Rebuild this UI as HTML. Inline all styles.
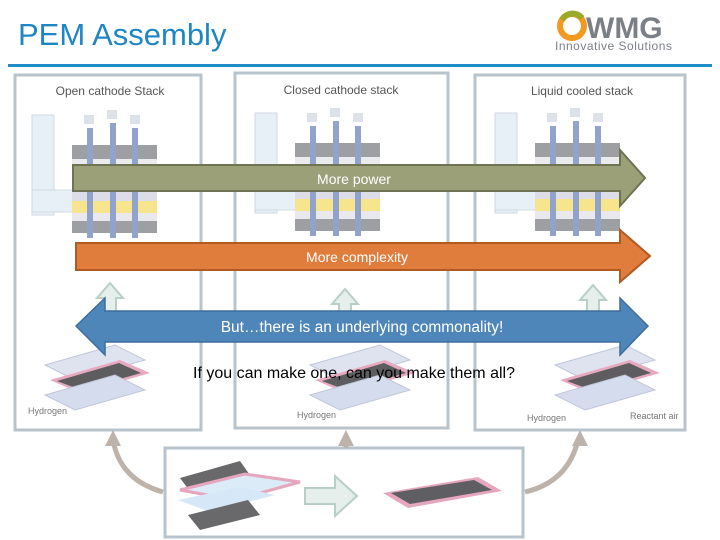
<!DOCTYPE html>
<html><head><meta charset="utf-8"><style>
html,body{margin:0;padding:0;background:#fff;}
svg{display:block;font-family:"Liberation Sans",sans-serif;}
</style></head><body>
<svg width="720" height="540" viewBox="0 0 720 540" xmlns="http://www.w3.org/2000/svg">
<defs>
<g id="stack">
  <rect x="-40" y="-5" width="22" height="100" fill="#e3eef6" stroke="#c9d4dc"/>
  <rect x="-40" y="70" width="100" height="22" fill="#e3eef6" stroke="#c9d4dc"/>
  <rect x="0" y="25" width="85" height="14" fill="#8d8f93"/>
  <rect x="0" y="39" width="85" height="8" fill="#e8e8ea"/>
  <rect x="0" y="47" width="85" height="8" fill="#c8c8cc"/>
  <rect x="0" y="55" width="85" height="16" fill="#e8d9e0"/>
  <rect x="0" y="71" width="85" height="10" fill="#d8d8e4"/>
  <rect x="0" y="81" width="85" height="12" fill="#f6e17a"/>
  <rect x="0" y="93" width="85" height="8" fill="#e6e6ea"/>
  <rect x="0" y="101" width="85" height="12" fill="#8d8f93"/>
  <rect x="15" y="8" width="6" height="110" fill="#7e93c2"/>
  <rect x="38" y="3" width="6" height="115" fill="#7e93c2"/>
  <rect x="60" y="8" width="6" height="110" fill="#7e93c2"/>
  <rect x="12" y="-5" width="10" height="9" fill="#d8dde4"/>
  <rect x="35" y="-10" width="10" height="9" fill="#d8dde4"/>
  <rect x="58" y="-5" width="10" height="9" fill="#d8dde4"/>
</g>
<g id="cell">
  <polygon points="0,20 70,0 100,15 30,35" fill="#dfe3f0" stroke="#c0c6d8"/>
  <polygon points="5,35 75,15 105,28 35,48" fill="#e7a9c0"/>
  <polygon points="12,36 74,18 96,28 36,45" fill="#5d5d60"/>
  <polygon points="0,50 70,30 100,45 30,65" fill="#d5dcee" stroke="#c0c6d8"/>
</g>
</defs>

<text x="18" y="45" font-size="31" fill="#1f86c4">PEM Assembly</text>
<g>
  <circle cx="572" cy="26" r="12" fill="none" stroke="#f29a1f" stroke-width="6"/>
  <path d="M562 20 A12 12 0 0 1 582 18" fill="none" stroke="#9aaa2a" stroke-width="6"/>
  <text x="586" y="38" font-size="30" font-weight="bold" fill="#7b7f86">WMG</text>
  <text x="555" y="50" font-size="12" fill="#7b7f86" letter-spacing="0.5">Innovative Solutions</text>
</g>
<rect x="8" y="64" width="704" height="3" fill="#1f8ec8"/>

<rect x="15" y="75" width="186" height="355" fill="#fff" stroke="#b9c3cc" stroke-width="3"/>
<rect x="235" y="73" width="213" height="355" fill="#fff" stroke="#b9c3cc" stroke-width="3"/>
<rect x="475" y="75" width="210" height="355" fill="#fff" stroke="#b9c3cc" stroke-width="3"/>
<text x="110" y="95" font-size="12" fill="#555" text-anchor="middle">Open cathode Stack</text>
<text x="341" y="94" font-size="12" fill="#555" text-anchor="middle">Closed cathode stack</text>
<text x="582" y="95" font-size="12" fill="#555" text-anchor="middle">Liquid cooled stack</text>

<g opacity="0.85">
<use href="#stack" transform="translate(72,120)"/>
<use href="#stack" transform="translate(295,118)"/>
<use href="#stack" transform="translate(535,118)"/>
</g>

<g fill="#e6efec" stroke="#b7cfc6" stroke-width="2">
<polygon points="110,283 97,298 104,298 104,312 116,312 116,298 123,298"/>
<polygon points="345,289 332,304 339,304 339,312 351,312 351,304 358,304"/>
<polygon points="593,285 580,300 587,300 587,312 599,312 599,300 606,300"/>
</g>

<use href="#cell" transform="translate(45,345)"/>
<use href="#cell" transform="translate(310,345)"/>
<use href="#cell" transform="translate(555,345)"/>
<text x="28" y="414" font-size="9" fill="#777">Hydrogen</text>
<text x="297" y="418" font-size="9" fill="#777">Hydrogen</text>
<text x="527" y="421" font-size="9" fill="#777">Hydrogen</text>
<text x="630" y="419" font-size="9" fill="#777">Reactant air</text>

<polygon points="73,165 620,165 620,150 645,178 620,206 620,191 73,191" fill="#9ba078" stroke="#6e7352" stroke-width="2"/>
<text x="354" y="184" font-size="14" fill="#fff" text-anchor="middle">More power</text>
<polygon points="76,243 620,243 620,230 650,256 620,282 620,270 76,270" fill="#e07d3d" stroke="#b05a24" stroke-width="2"/>
<text x="357" y="262" font-size="14" fill="#fff" text-anchor="middle">More complexity</text>
<polygon points="76,326 105,298 105,311 620,311 620,298 648,326 620,355 620,342 105,342 105,355" fill="#4f86ba" stroke="#3d6e9c" stroke-width="1.5"/>
<text x="362" y="332" font-size="15.5" fill="#fff" text-anchor="middle">But…there is an underlying commonality!</text>

<text x="354" y="378" font-size="16" fill="#000" text-anchor="middle">If you can make one, can you make them all?</text>

<rect x="165" y="448" width="358" height="89" fill="#fff" stroke="#b9c3cc" stroke-width="3"/>
<polygon points="180,478 240,461 252,478 192,494" fill="#69686b"/>
<polygon points="180,490 245,474 300,482 235,500" fill="#dcebf8" stroke="#e6a6bd" stroke-width="3"/>
<polygon points="178,500 240,487 275,495 210,512" fill="#d6e8f8"/>
<polygon points="188,515 248,500 260,515 200,530" fill="#69686b"/>
<polygon points="305,488 335,488 335,476 357,496 335,516 335,504 305,504" fill="#e6efec" stroke="#b7cfc6" stroke-width="2"/>
<polygon points="383,493 478,477 502,491 408,508" fill="#e6a6bd"/>
<polygon points="391,493 474,480 492,490 410,504" fill="#5f5e62"/>

<g fill="none" stroke="#bdb3aa" stroke-width="5">
<path d="M163,492 Q120,480 113,440"/>
<path d="M346,448 L346,440"/>
<path d="M525,492 Q568,482 578,440"/>
</g>
<g fill="#bdb3aa">
<polygon points="113,430 105,446 121,446"/>
<polygon points="346,430 338,446 354,446"/>
<polygon points="580,430 572,446 588,446"/>
</g>
</svg>
</body></html>
